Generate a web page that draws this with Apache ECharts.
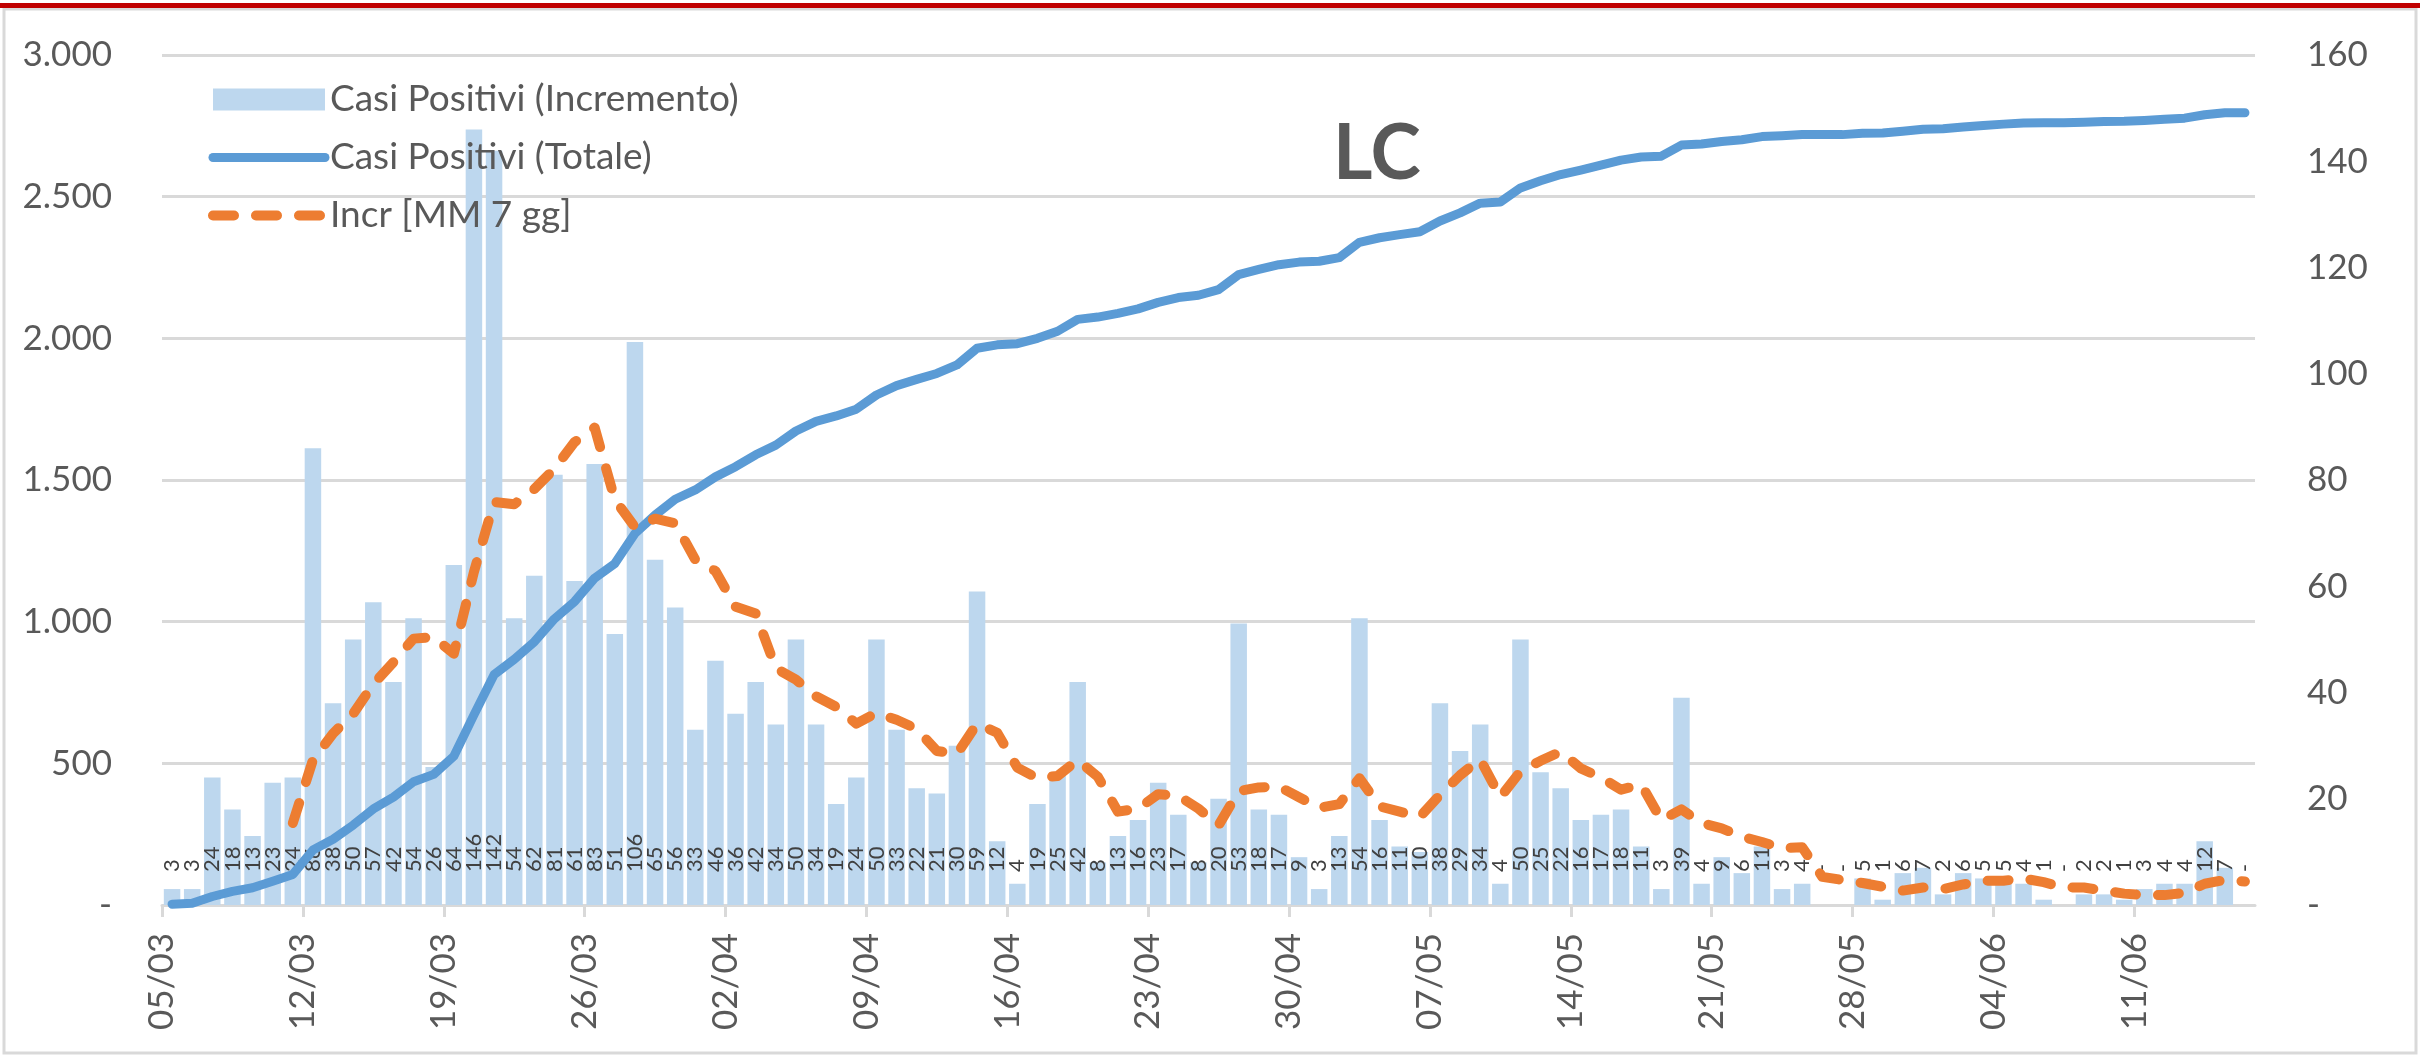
<!DOCTYPE html>
<html>
<head>
<meta charset="utf-8">
<script src="https://cdn.jsdelivr.net/npm/echarts@6/dist/echarts.min.js"></script>
<style>
  html, body { margin: 0; padding: 0; background: #ffffff; }
  #chart { width: 2420px; height: 1055px; }
</style>
</head>
<body>
<div id="chart"></div>
<script>
// Daily dates (dd/mm)
const dates = [
  '05/03','06/03','07/03','08/03','09/03','10/03','11/03','12/03','13/03','14/03','15/03','16/03','17/03','18/03',
  '19/03','20/03','21/03','22/03','23/03','24/03','25/03','26/03','27/03','28/03','29/03','30/03','31/03',
  '01/04','02/04','03/04','04/04','05/04','06/04','07/04','08/04','09/04','10/04','11/04','12/04','13/04','14/04','15/04',
  '16/04','17/04','18/04','19/04','20/04','21/04','22/04','23/04','24/04','25/04','26/04','27/04','28/04','29/04','30/04',
  '01/05','02/05','03/05','04/05','05/05','06/05','07/05','08/05','09/05','10/05','11/05','12/05','13/05','14/05','15/05',
  '16/05','17/05','18/05','19/05','20/05','21/05','22/05','23/05','24/05','25/05','26/05','27/05','28/05','29/05','30/05','31/05',
  '01/06','02/06','03/06','04/06','05/06','06/06','07/06','08/06','09/06','10/06','11/06','12/06','13/06','14/06','15/06','16/06'
];

// Daily new positive cases
const increments = [
  3, 3, 24, 18, 13, 23, 24, 86, 38, 50,
  57, 42, 54, 26, 64, 146, 142, 54, 62, 81,
  61, 83, 51, 106, 65, 56, 33, 46, 36, 42,
  34, 50, 34, 19, 24, 50, 33, 22, 21, 30,
  59, 12, 4, 19, 25, 42, 8, 13, 16, 23,
  17, 8, 20, 53, 18, 17, 9, 3, 13, 54,
  16, 11, 10, 38, 29, 34, 4, 50, 25, 22,
  16, 17, 18, 11, 3, 39, 4, 9, 6, 11,
  3, 4, 0, 0, 5, 1, 6, 7, 2, 6,
  5, 5, 4, 1, 0, 2, 2, 1, 3, 4,
  4, 12, 7, 0
];

// Total positive cases
const totals = [
  3, 6, 30, 48, 61, 84, 108, 194, 232, 282,
  339, 381, 435, 461, 525, 671, 813, 867, 929, 1010,
  1071, 1154, 1205, 1311, 1376, 1432, 1465, 1511, 1547, 1589,
  1623, 1673, 1707, 1726, 1750, 1800, 1833, 1855, 1876, 1906,
  1965, 1977, 1981, 2000, 2025, 2067, 2075, 2088, 2104, 2127,
  2144, 2152, 2172, 2225, 2243, 2260, 2269, 2272, 2285, 2339,
  2355, 2366, 2376, 2414, 2443, 2477, 2481, 2531, 2556, 2578,
  2594, 2611, 2629, 2640, 2643, 2682, 2686, 2695, 2701, 2712,
  2715, 2719, 2719, 2719, 2724, 2725, 2731, 2738, 2740, 2746,
  2751, 2756, 2760, 2761, 2761, 2763, 2765, 2766, 2769, 2773,
  2777, 2789, 2796, 2796
];

// 7-day moving average of the daily increments
const avg7 = [
  null, null, null, null, null, null, 15.43, 27.29, 32.29, 36.00,
  41.57, 45.71, 50.14, 50.43, 47.29, 62.71, 75.86, 75.43, 78.29, 82.14,
  87.14, 89.86, 76.29, 71.14, 72.71, 71.86, 65.00, 62.86, 56.14, 54.86,
  44.57, 42.43, 39.29, 37.29, 34.14, 36.14, 34.86, 33.14, 29.00, 28.43,
  34.14, 32.43, 25.86, 23.86, 24.29, 27.29, 24.14, 17.57, 18.14, 20.86,
  20.57, 18.14, 15.00, 21.43, 22.14, 22.29, 20.29, 18.29, 19.00, 23.86,
  18.57, 17.57, 16.57, 20.71, 24.43, 27.43, 20.29, 25.14, 27.14, 28.86,
  25.71, 24.00, 21.71, 22.71, 16.00, 18.00, 15.43, 14.43, 12.86, 11.86,
  10.71, 10.86, 5.29, 4.71, 4.14, 3.43, 2.71, 3.29, 3.00, 3.86,
  4.57, 4.57, 5.00, 4.29, 3.29, 3.29, 2.71, 2.14, 1.86, 1.86,
  2.29, 4.00, 4.71, 4.43
];

const FONT = 'Lato, "Open Sans", sans-serif';
const TEXT = '#595959';
const GRID = '#d9d9d9';
const BAR = '#BDD7EE';
const BLUE = '#5B9BD5';
const ORANGE = '#ED7D31';

function thousands(v) {
  if (v === 0) return '-';
  return String(v).replace(/\B(?=(\d{3})+(?!\d))/g, '.');
}

// weekly ticks on the day boundaries
const weekTicks = [];
for (let i = 0; i < dates.length; i += 7) weekTicks.push(i);

const chart = echarts.init(document.getElementById('chart'), null, { renderer: 'canvas' });

chart.setOption({
  animation: false,
  backgroundColor: '#ffffff',
  textStyle: { fontFamily: FONT },
  grid: { left: 162, right: 165, top: 55, bottom: 150 },
  legend: {
    orient: 'vertical',
    left: 203,
    top: 76,
    itemWidth: 112,
    itemHeight: 22,
    itemGap: 21,
    itemStyle: { opacity: 0 },
    lineStyle: { width: 'inherit', cap: 'round', type: 'inherit' },
    textStyle: { fontSize: 37, color: TEXT, fontFamily: FONT, lineHeight: 36 },
    data: [
      { name: 'Casi Positivi (Incremento)', icon: 'rect', itemStyle: { opacity: 1, color: BAR } },
      { name: 'Casi Positivi (Totale)' },
      { name: 'Incr [MM 7 gg]' }
    ]
  },
  xAxis: [
    {
      type: 'category',
      data: dates,
      boundaryGap: true,
      axisLine: { show: true, lineStyle: { color: GRID, width: 3 } },
      axisTick: { show: false },
      axisLabel: { show: false },
      splitLine: { show: false }
    },
    {
      type: 'value',
      position: 'bottom',
      min: 0,
      max: dates.length,
      interval: 7,
      axisLine: { show: false },
      axisTick: {
        show: true, length: 12, customValues: weekTicks,
        lineStyle: { color: GRID, width: 3 }
      },
      axisLabel: {
        show: true,
        customValues: weekTicks,
        rotate: 90,
        margin: 28,
        fontSize: 35,
        color: TEXT,
        fontFamily: FONT,
        formatter: v => (dates[v] !== undefined ? dates[v] : '')
      },
      splitLine: { show: false }
    }
  ],
  yAxis: [
    {
      type: 'value',
      min: 0,
      max: 3000,
      interval: 500,
      axisLine: { show: false },
      axisTick: { show: false },
      axisLabel: { margin: 50, fontSize: 35, color: TEXT, fontFamily: FONT, formatter: thousands },
      splitLine: { show: true, lineStyle: { color: GRID, width: 3 } }
    },
    {
      type: 'value',
      min: 0,
      max: 160,
      interval: 20,
      position: 'right',
      axisLine: { show: false },
      axisTick: { show: false },
      axisLabel: { margin: 52, fontSize: 35, color: TEXT, fontFamily: FONT, formatter: thousands },
      splitLine: { show: false }
    }
  ],
  series: [
    {
      name: 'Casi Positivi (Incremento)',
      type: 'bar',
      xAxisIndex: 0,
      yAxisIndex: 1,
      data: increments,
      barWidth: '82%',
      z: 2,
      itemStyle: { color: BAR },
      label: {
        show: true,
        position: 'insideBottom',
        distance: 33,
        rotate: 90,
        align: 'left',
        verticalAlign: 'middle',
        fontSize: 22,
        color: '#404040',
        fontFamily: FONT,
        formatter: p => (p.value === 0 ? '-' : String(p.value))
      }
    },
    {
      name: 'Casi Positivi (Totale)',
      type: 'line',
      xAxisIndex: 0,
      yAxisIndex: 0,
      data: totals,
      symbol: 'none',
      z: 3,
      lineStyle: { color: BLUE, width: 9, cap: 'round', join: 'round' },
      itemStyle: { color: BLUE }
    },
    {
      name: 'Incr [MM 7 gg]',
      type: 'line',
      xAxisIndex: 0,
      yAxisIndex: 1,
      data: avg7,
      symbol: 'none',
      z: 4,
      lineStyle: { color: ORANGE, width: 10, type: [21, 22], cap: 'round', join: 'round' },
      itemStyle: { color: ORANGE }
    }
  ],
  graphic: [
    {
      type: 'rect',
      silent: true,
      shape: { x: 4, y: 9, width: 2412, height: 1044 },
      style: { fill: 'none', stroke: GRID, lineWidth: 3 },
      z: -1
    },
    {
      type: 'rect',
      silent: true,
      shape: { x: 0, y: 3, width: 2420, height: 5 },
      style: { fill: '#C00000' },
      z: 10
    },
    {
      type: 'text',
      silent: true,
      left: 1333,
      top: 116,
      style: { text: 'LC', font: 'bold 76px ' + FONT, fill: TEXT },
      z: 10
    }
  ]
});
</script>
</body>
</html>
